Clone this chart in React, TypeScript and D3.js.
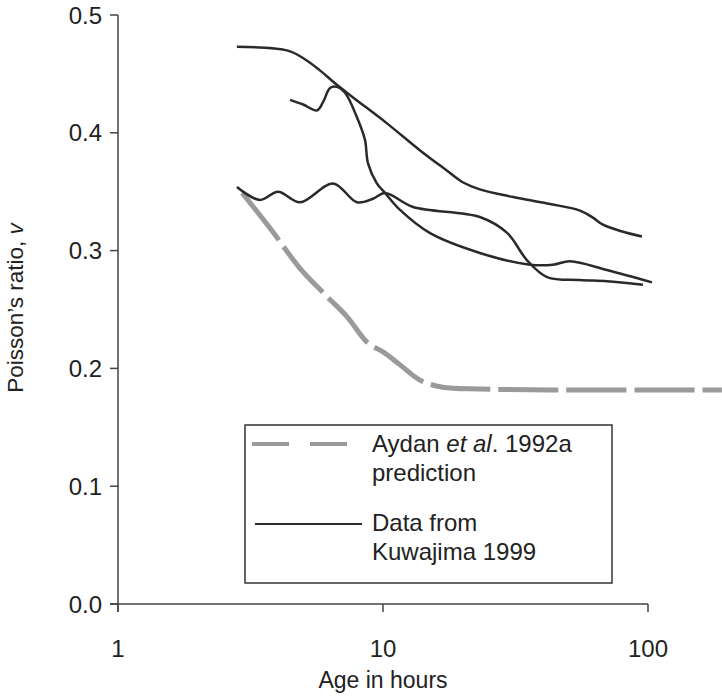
import React, { useEffect, useRef } from 'react';
import * as d3 from 'd3';

// Age in hours (x) and Poisson's ratio (y)
const curveA = [
  [2.81, 0.473], [4.34, 0.470], [4.99, 0.4635], [5.78, 0.453], [6.59, 0.442],
  [7.71, 0.430], [10.35, 0.408], [13.8, 0.385], [17.4, 0.368], [20.0, 0.358],
  [23.2, 0.352], [31.0, 0.3455], [41.6, 0.340], [55.4, 0.334], [62.0, 0.328],
  [67.6, 0.322], [80.5, 0.316], [94.9, 0.312]
];

const curveB = [
  [4.46, 0.428], [5.0, 0.424], [5.63, 0.419], [5.94, 0.426], [6.31, 0.438],
  [6.70, 0.439], [7.19, 0.434], [7.98, 0.413], [8.55, 0.394], [8.78, 0.374],
  [9.48, 0.357], [10.17, 0.349], [11.6, 0.3345], [15.0, 0.315], [23.2, 0.298],
  [35.9, 0.288], [43.8, 0.288], [50.8, 0.291], [70.0, 0.2835], [103.5, 0.273]
];

const curveC = [
  [2.81, 0.354], [3.43, 0.343], [4.02, 0.350], [4.86, 0.341], [6.48, 0.357],
  [7.98, 0.341], [9.17, 0.344], [10.17, 0.349], [13.0, 0.337], [23.2, 0.3285],
  [29.4, 0.315], [34.9, 0.292], [41.6, 0.2775], [55.4, 0.275], [70.0, 0.274],
  [95.7, 0.271]
];

const aydan = [
  [2.94, 0.349], [3.75, 0.319], [4.86, 0.285], [6.15, 0.261], [7.31, 0.244],
  [8.77, 0.2215], [10.0, 0.214], [11.6, 0.203], [13.8, 0.190], [16.8, 0.184],
  [23.2, 0.1825], [42.7, 0.1817], [190, 0.1817]
];

const xTicks = [1, 10, 100];
const yTicks = [0, 0.1, 0.2, 0.3, 0.4, 0.5];

const App = () => {
  const svgRef = useRef<SVGSVGElement>(null);
  const width = 722;
  const height = 697;

  useEffect(() => {
    const svg = d3.select(svgRef.current);
    svg.selectAll('*').remove();

    const font = 'Liberation Sans, Arial, sans-serif';
    const axisColor = '#444';
    const textColor = '#222';

    const x = d3.scaleLog().domain([1, 100]).range([118, 648]);
    const y = d3.scaleLinear().domain([0, 0.5]).range([604, 15]);

    const line = d3.line<number[]>()
      .x(d => x(d[0]))
      .y(d => y(d[1]))
      .curve(d3.curveCatmullRom.alpha(0.5));

    // axes
    svg.append('line')
      .attr('x1', x(1)).attr('x2', x(1))
      .attr('y1', y(0.5)).attr('y2', y(0) + 8)
      .attr('stroke', axisColor).attr('stroke-width', 1.5);

    svg.append('line')
      .attr('x1', x(1) - 8).attr('x2', x(100))
      .attr('y1', y(0)).attr('y2', y(0))
      .attr('stroke', axisColor).attr('stroke-width', 1.5);

    yTicks.forEach(t => {
      svg.append('line')
        .attr('x1', x(1) - 8).attr('x2', x(1))
        .attr('y1', y(t)).attr('y2', y(t))
        .attr('stroke', axisColor).attr('stroke-width', 1.5);
      svg.append('text')
        .attr('x', x(1) - 16)
        .attr('y', y(t))
        .attr('dy', '0.36em')
        .attr('text-anchor', 'end')
        .style('font-family', font)
        .style('font-size', '24px')
        .style('fill', textColor)
        .text(d3.format('.1f')(t));
    });

    xTicks.forEach(t => {
      svg.append('line')
        .attr('x1', x(t)).attr('x2', x(t))
        .attr('y1', y(0)).attr('y2', y(0) + 8)
        .attr('stroke', axisColor).attr('stroke-width', 1.5);
      svg.append('text')
        .attr('x', x(t))
        .attr('y', y(0) + 53)
        .attr('text-anchor', 'middle')
        .style('font-family', font)
        .style('font-size', '24px')
        .style('fill', textColor)
        .text(t);
    });

    // axis titles
    svg.append('text')
      .attr('x', x(10))
      .attr('y', 688)
      .attr('text-anchor', 'middle')
      .style('font-family', font)
      .style('font-size', '23px')
      .style('fill', textColor)
      .text('Age in hours');

    const yLabel = svg.append('text')
      .attr('transform', 'translate(23,308) rotate(-90)')
      .attr('text-anchor', 'middle')
      .style('font-family', font)
      .style('font-size', '22.5px')
      .style('fill', textColor);
    yLabel.append('tspan').text('Poisson\u2019s ratio, ');
    yLabel.append('tspan').style('font-style', 'italic').text('v');

    // prediction (grey dashed)
    svg.append('path')
      .datum(aydan)
      .attr('d', line)
      .attr('fill', 'none')
      .attr('stroke', '#9a9a9a')
      .attr('stroke-width', 5)
      .attr('stroke-dasharray', '60,8');

    // measured data (black)
    [curveA, curveB, curveC].forEach(c => {
      svg.append('path')
        .datum(c)
        .attr('d', line)
        .attr('fill', 'none')
        .attr('stroke', '#2a2a2a')
        .attr('stroke-width', 2.5);
    });

    // legend
    const legend = svg.append('g');
    legend.append('rect')
      .attr('x', 245).attr('y', 425)
      .attr('width', 367).attr('height', 158)
      .attr('fill', 'white')
      .attr('stroke', '#333')
      .attr('stroke-width', 1.5);

    legend.append('line')
      .attr('x1', 252).attr('x2', 348)
      .attr('y1', 444).attr('y2', 444)
      .attr('stroke', '#9a9a9a')
      .attr('stroke-width', 4)
      .attr('stroke-dasharray', '37,21');

    legend.append('line')
      .attr('x1', 255).attr('x2', 362)
      .attr('y1', 524).attr('y2', 524)
      .attr('stroke', '#2a2a2a')
      .attr('stroke-width', 2);

    const t1 = legend.append('text')
      .attr('x', 372).attr('y', 452)
      .style('font-family', font)
      .style('font-size', '24px')
      .style('fill', textColor);
    t1.append('tspan').text('Aydan ');
    t1.append('tspan').style('font-style', 'italic').text('et al');
    t1.append('tspan').text('. 1992a');

    legend.append('text')
      .attr('x', 372).attr('y', 481)
      .style('font-family', font)
      .style('font-size', '24px')
      .style('fill', textColor)
      .text('prediction');

    legend.append('text')
      .attr('x', 372).attr('y', 531)
      .style('font-family', font)
      .style('font-size', '24px')
      .style('fill', textColor)
      .text('Data from');

    legend.append('text')
      .attr('x', 372).attr('y', 560)
      .style('font-family', font)
      .style('font-size', '24px')
      .style('fill', textColor)
      .text('Kuwajima 1999');
  }, []);

  return (
    <svg
      ref={svgRef}
      width={width}
      height={height}
      style={{ position: 'absolute', left: 0, top: 0, background: 'white' }}
    />
  );
};

export default App;
